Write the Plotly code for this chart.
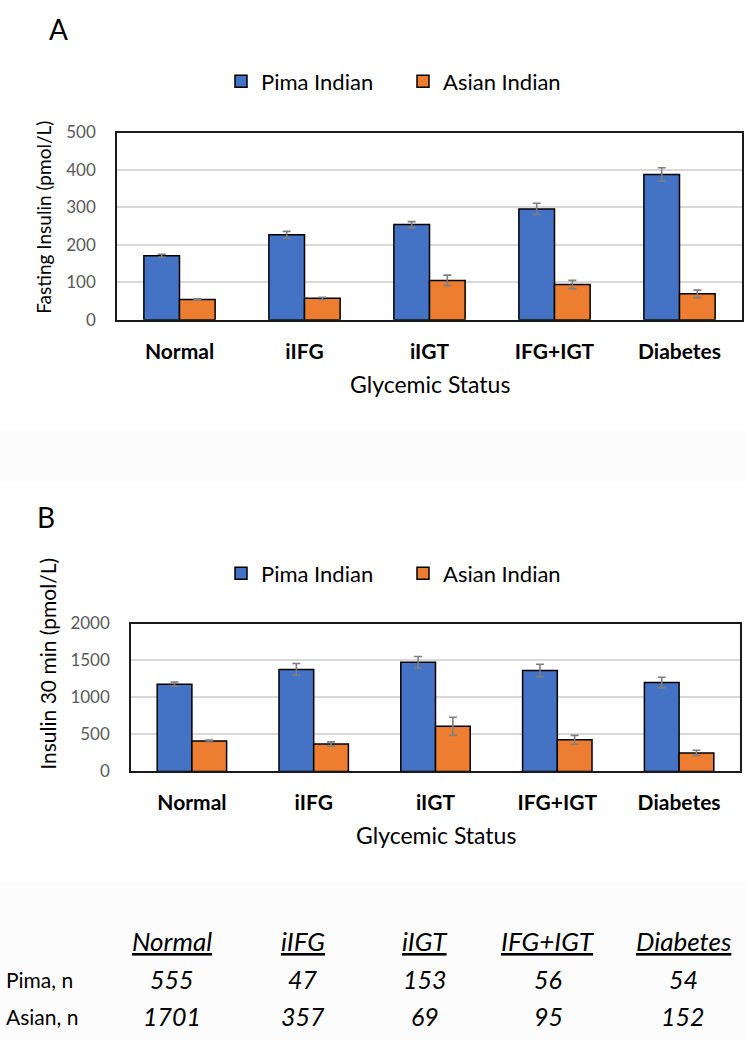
import plotly.graph_objects as go

# ---------------- data ----------------
categories = ["Normal", "iIFG", "iIGT", "IFG+IGT", "Diabetes"]
series_names = ["Pima Indian", "Asian Indian"]

fasting_pima = [171, 227, 254, 296, 388]
fasting_pima_err = [4, 9, 8, 15, 18]
fasting_asian = [54, 57, 105, 94, 69]
fasting_asian_err = [2, 3, 14, 11, 10]

ins30_pima = [1180, 1379, 1476, 1366, 1203]
ins30_pima_err = [29, 80, 77, 84, 70]
ins30_asian = [411, 371, 610, 428, 250]
ins30_asian_err = [13, 29, 122, 60, 36]

yticks_a = [0, 100, 200, 300, 400, 500]
yticks_b = [0, 500, 1000, 1500, 2000]

table_rows = ["Pima, n", "Asian, n"]
pima_n = [555, 47, 153, 56, 54]
asian_n = [1701, 357, 69, 95, 152]

# ---------------- helpers ----------------
W, H = 746, 1050
FONT = "Lato"
PIMA_COLOR = "#4472C4"
ASIAN_COLOR = "#ED7D31"
ERR_COLOR = "#7F7F7F"


def px(x):
    return x / W


def py(y):
    return 1 - y / H


def bar(name, values, errors, color, xa, ya, legend, show):
    return go.Bar(
        x=categories, y=values, name=name, xaxis=xa, yaxis=ya, legend=legend,
        showlegend=show,
        marker=dict(color=color, line=dict(color="#000000", width=1.5)),
        error_y=dict(type="data", array=errors, visible=True, color=ERR_COLOR,
                     thickness=1.6, width=4),
    )


fig = go.Figure()
fig.add_trace(bar(series_names[0], fasting_pima, fasting_pima_err, PIMA_COLOR, "x", "y", "legend", True))
fig.add_trace(bar(series_names[1], fasting_asian, fasting_asian_err, ASIAN_COLOR, "x", "y", "legend", True))
fig.add_trace(bar(series_names[0], ins30_pima, ins30_pima_err, PIMA_COLOR, "x2", "y2", "legend2", True))
fig.add_trace(bar(series_names[1], ins30_asian, ins30_asian_err, ASIAN_COLOR, "x2", "y2", "legend2", True))

xaxis_common = dict(
    type="category", showline=True, mirror=True, linecolor="#1a1a1a", linewidth=1.5,
    showgrid=False, ticks="outside", ticklen=12, tickcolor="rgba(0,0,0,0)",
    tickfont=dict(family=FONT, size=21, color="#000000", weight="bold"),
    fixedrange=True,
)
yaxis_common = dict(
    showline=True, mirror=True, linecolor="#1a1a1a", linewidth=1.5,
    showgrid=True, gridcolor="#D9D9D9", gridwidth=1.5, zeroline=False,
    ticks="outside", ticklen=16, tickcolor="rgba(0,0,0,0)",
    tickfont=dict(family=FONT, size=17, color="#595959"),
    fixedrange=True,
)

legend_common = dict(orientation="h", xanchor="left", yanchor="middle",
                     font=dict(family=FONT, size=22, color="#000000"),
                     entrywidth=137, bgcolor="rgba(0,0,0,0)")

fig.update_layout(
    width=W, height=H,
    margin=dict(l=0, r=0, t=0, b=0),
    paper_bgcolor="#FFFFFF", plot_bgcolor="#FFFFFF",
    barmode="group", bargap=0.43, bargroupgap=0,
    font=dict(family=FONT, color="#000000"),
    xaxis=dict(xaxis_common, domain=[px(117), px(742)], anchor="y"),
    yaxis=dict(yaxis_common, domain=[py(315), py(124)], anchor="x",
               range=[0, 500], tickvals=yticks_a),
    xaxis2=dict(xaxis_common, domain=[px(131), px(740)], anchor="y2"),
    yaxis2=dict(yaxis_common, domain=[py(776), py(625)], anchor="x2",
                range=[0, 2000], tickvals=yticks_b),
    legend=dict(legend_common, x=px(221), y=py(72)),
    legend2=dict(legend_common, x=px(221), y=py(574)),
)

# faint background bands
fig.add_shape(type="rect", xref="paper", yref="paper", x0=0, x1=1, y0=py(480), y1=py(427),
              fillcolor="#FCFCFC", line=dict(width=0), layer="below")
fig.add_shape(type="rect", xref="paper", yref="paper", x0=0, x1=1, y0=0, y1=py(888),
              fillcolor="#FCFCFC", line=dict(width=0), layer="below")


def note(text, x, y, size, xanchor="center", angle=0, color="#000000"):
    fig.add_annotation(text=text, x=px(x), y=py(y), xref="paper", yref="paper",
                       xanchor=xanchor, yanchor="middle", showarrow=False,
                       textangle=angle, font=dict(family=FONT, size=size, color=color))


# panel letters
note("A", 58, 18, 28)
note("B", 46, 516, 28)

# axis titles
note("Fasting Insulin (pmol/L)", 44, 211, 19, angle=-90)
note("Glycemic Status", 429.5, 381, 23)
note("Insulin 30 min (pmol/L)", 48, 666, 21, angle=-90)
note("Glycemic Status", 435.5, 841, 23)

# n table
col_x = [172, 303, 425, 548, 683]
for cx, cat in zip(col_x, categories):
    note("<i><u>" + cat + "</u></i>", cx, 949, 26)
for cx, v in zip(col_x, pima_n):
    note("<i>" + str(v) + "</i>", cx, 988, 25)
for cx, v in zip(col_x, asian_n):
    note("<i>" + str(v) + "</i>", cx, 1026, 25)
note(table_rows[0], 4, 988, 21, xanchor="left")
note(table_rows[1], 4, 1026, 21, xanchor="left")

fig.write_html("out.html", config={"displayModeBar": False},
               post_script="document.body.style.margin='0px';")
